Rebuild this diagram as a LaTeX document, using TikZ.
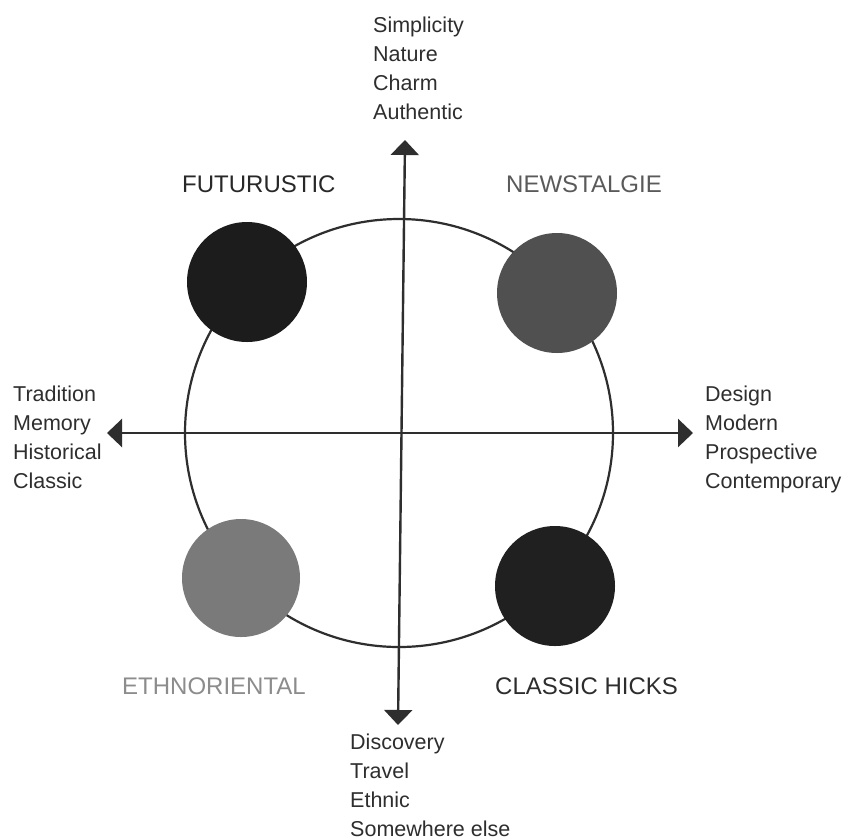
\documentclass[tikz,border=0pt]{standalone}
\usepackage{fontspec}
\setmainfont{Liberation Sans}
\usetikzlibrary{arrows.meta}
\definecolor{ink}{HTML}{2E2E2E}
\begin{document}
\begin{tikzpicture}[x=1pt,y=-1pt,
  axis/.style={draw=ink,line width=2.4pt,{Triangle[length=15pt,width=28pt]}-{Triangle[length=15pt,width=28pt]}},
  ring/.style={draw=ink,line width=2.2pt},
  blob/.style={circle,inner sep=0pt,minimum size=#1},
  words/.style={anchor=base west,inner sep=0pt,align=left,text=ink,font=\fontsize{21.5}{28.7}\selectfont},
  quad/.style={anchor=base west,inner sep=0pt,font=\fontsize{24}{28}\selectfont}]
\useasboundingbox[fill=white] (0,0) rectangle (850,839);
% big circle
\node[ring,circle,inner sep=0pt,minimum size=428pt] (ring) at (399,433) {};
% axes
\coordinate (top) at (405,140);
\coordinate (bot) at (398,725);
\coordinate (lft) at (107,433);
\coordinate (rgt) at (693,433);
\draw[axis] (top) -- (bot);
\draw[axis] (lft) -- (rgt);
% quadrant circles
\node[blob=120pt,fill={rgb,255:red,28;green,28;blue,28}] (fut) at (247,282) {};
\node[blob=120pt,fill={rgb,255:red,80;green,80;blue,80}] (new) at (557,293) {};
\node[blob=118pt,fill={rgb,255:red,122;green,122;blue,122}] (eth) at (241,578) {};
\node[blob=120pt,fill={rgb,255:red,32;green,32;blue,32}] (cla) at (555,586) {};
% quadrant labels
\node[quad,text={rgb,255:red,40;green,40;blue,40}] (futl) at (182,192) {FUTURUSTIC};
\node[quad,text={rgb,255:red,90;green,90;blue,90}] (newl) at (506,192) {NEWSTALGIE};
\node[quad,text={rgb,255:red,140;green,140;blue,140}] (ethl) at (122,694) {ETHNORIENTAL};
\node[quad,text={rgb,255:red,45;green,45;blue,45}] (clal) at (495,694) {CLASSIC HICKS};
% axis labels (anchored at the baseline of the last line)
\node[words] (tw) at (373,119) {Simplicity\\Nature\\Charm\\Authentic};
\node[words] (bw) at (350,836) {Discovery\\Travel\\Ethnic\\Somewhere else};
\node[words] (lw) at (13,488) {Tradition\\Memory\\Historical\\Classic};
\node[words] (rw) at (705,488) {Design\\Modern\\Prospective\\Contemporary};
\end{tikzpicture}
\end{document}
